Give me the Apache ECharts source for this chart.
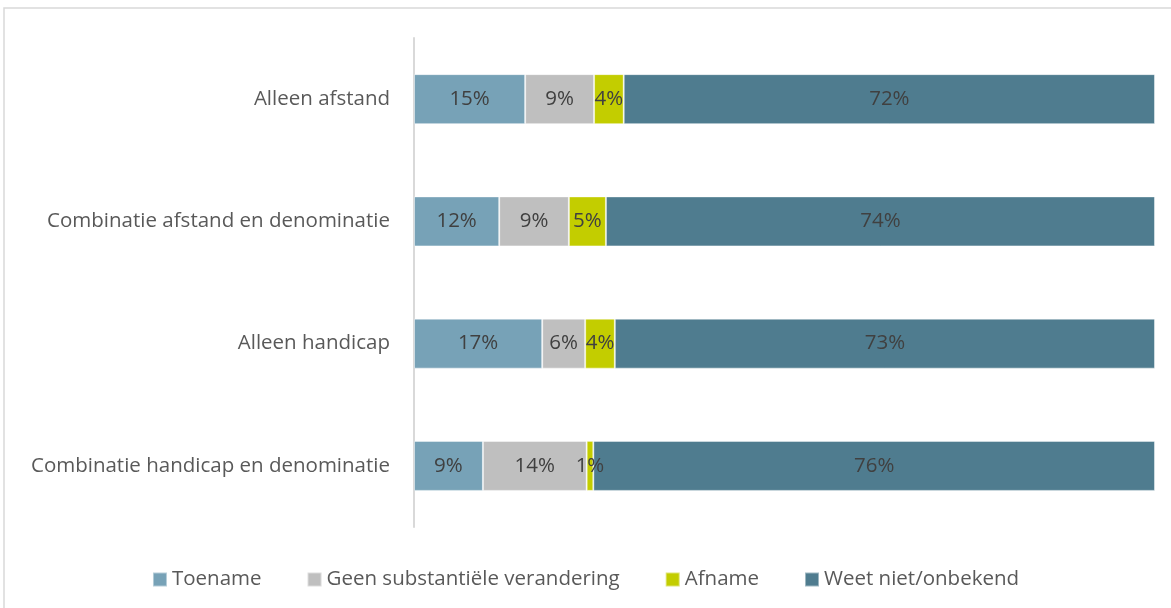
<!DOCTYPE html>
<html>
<head>
<meta charset="utf-8">
<script src="https://cdn.jsdelivr.net/npm/echarts@6/dist/echarts.min.js"></script>
<style>
  html, body { margin: 0; padding: 0; background: #fff; }
  #myChart { width: 1171px; height: 608px; }
</style>
</head>
<body>
<div id="myChart"></div>
<script>
const categories = [
  "Alleen afstand",
  "Combinatie afstand en denominatie",
  "Alleen handicap",
  "Combinatie handicap en denominatie"
];
const seriesNames = ["Toename", "Geen substantiële verandering", "Afname", "Weet niet/onbekend"];
// shares in % (labels show rounded values)
const toename = [15.0, 11.5, 17.3, 9.3];
const geen = [9.3, 9.4, 5.8, 14.0];
const afname = [4.0, 5.0, 4.0, 0.9];
const weetNiet = [71.7, 74.1, 72.9, 75.8];
const colors = ["#77a2b7", "#bfbfbf", "#c3cd00", "#4f7c8f"];

const values = [toename, geen, afname, weetNiet];
const font = "'Open Sans', 'Noto Sans', sans-serif";

let chart = echarts.init(document.getElementById("myChart"));
chart.setOption({
  animation: false,
  textStyle: { fontFamily: font },
  graphic: [{
    type: "rect",
    shape: { x: 4, y: 8, width: 1200, height: 700 },
    style: { fill: "none", stroke: "#d9d9d9", lineWidth: 1.5 }
  }],
  grid: { left: 414, right: 16, top: 38, bottom: 81, containLabel: false },
  xAxis: {
    type: "value", min: 0, max: 100,
    show: false
  },
  yAxis: {
    type: "category",
    data: categories,
    inverse: true,
    axisLine: { lineStyle: { color: "#d9d9d9", width: 2 } },
    axisTick: { show: false },
    axisLabel: { color: "#595959", fontSize: 20.5, margin: 24, fontFamily: font }
  },
  legend: {
    bottom: 13,
    left: "center",
    itemWidth: 14,
    itemHeight: 14,
    itemGap: 45,
    icon: "rect",
    textStyle: { color: "#595959", fontSize: 20.5, fontFamily: font, padding: [0, 0, 0, 0] },
    data: seriesNames
  },
  series: seriesNames.map((name, i) => ({
    name: name,
    type: "bar",
    stack: "total",
    barWidth: 50,
    data: values[i],
    itemStyle: { color: colors[i], borderColor: "rgba(255,255,255,0.45)", borderWidth: 1 },
    label: {
      show: true,
      position: "inside",
      formatter: p => Math.round(p.value) + "%",
      color: "#404040",
      fontSize: 20.5,
      fontFamily: font
    }
  }))
});
</script>
</body>
</html>
